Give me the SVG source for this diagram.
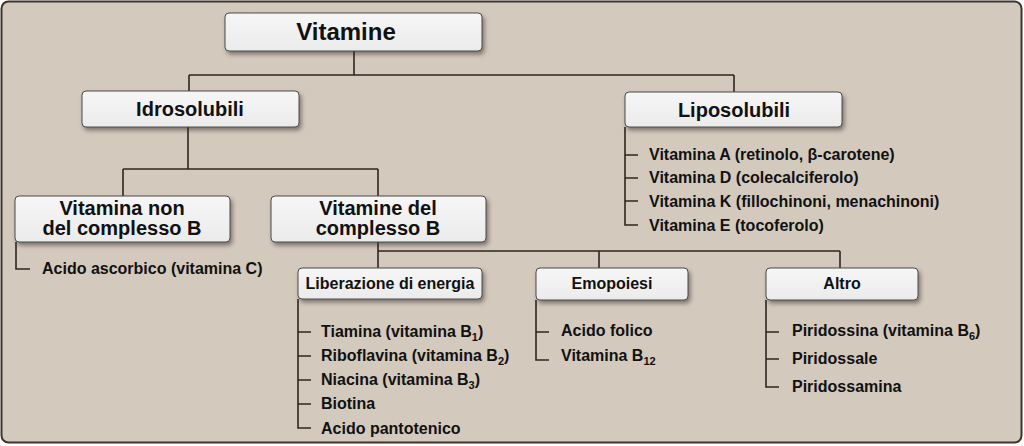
<svg xmlns="http://www.w3.org/2000/svg" width="1024" height="446" viewBox="0 0 1024 446">
<defs>
<linearGradient id="boxg" x1="0" y1="0" x2="0" y2="1">
<stop offset="0" stop-color="#f6f6f6"/>
<stop offset="1" stop-color="#ebebeb"/>
</linearGradient>
<filter id="sh" x="-10%" y="-20%" width="125%" height="160%">
<feDropShadow dx="2" dy="3" stdDeviation="2" flood-color="#3a3028" flood-opacity="0.55"/>
</filter>
</defs>
<style>
.box{fill:url(#boxg);stroke:#4a4a4a;stroke-width:1;filter:url(#sh)}
.t{font-family:"Liberation Sans",Arial,sans-serif;font-weight:bold;fill:#111}
.h1{font-size:24px;text-anchor:middle}
.h2{font-size:20px;text-anchor:middle}
.h3{font-size:16px;text-anchor:middle}
.it{font-size:16px}
.c{fill:none;stroke:#2e2620;stroke-width:1.6}
</style>
<rect x="1.5" y="1.5" width="1020" height="441" rx="7" fill="#d3c9bd" stroke="#3e342c" stroke-width="2"/>
<g id="connectors">
<path class="c" d="M354,51V75M189,75H734M189,75V91M734,75V92"/>
<path class="c" d="M188,127V169M123,169H378M123,169V196M378,169V196"/>
<path class="c" d="M378,242V251H840M378,251V268M599,251V268M840,251V268"/>
<path class="c" d="M16,242V269H30"/>
<path class="c" d="M625,127V225H638M625,155H638M625,178H638M625,201H638"/>
<path class="c" d="M298,299V428H311M298,332H311M298,356H311M298,380H311M298,404H311"/>
<path class="c" d="M536,300V360H549M536,332H549"/>
<path class="c" d="M766,300V387H779M766,332H779M766,359H779"/>
</g>
<g id="vitamine"><rect class="box" x="225" y="13" width="257" height="38" rx="4"/><text class="t h1" x="346" y="40">Vitamine</text></g>
<g id="idrosolubili"><rect class="box" x="82" y="91" width="217" height="36" rx="4"/><text class="t h2" x="190" y="116">Idrosolubili</text></g>
<g id="liposolubili"><rect class="box" x="625" y="92" width="217" height="35" rx="4"/><text class="t h2" x="734" y="117">Liposolubili</text></g>
<g id="liposolubili-items" class="t it">
<text x="649" y="160">Vitamina A (retinolo, β-carotene)</text>
<text x="649" y="183">Vitamina D (colecalciferolo)</text>
<text x="649" y="207">Vitamina K (fillochinoni, menachinoni)</text>
<text x="649" y="231">Vitamina E (tocoferolo)</text>
</g>
<g id="non-complesso-b"><rect class="box" x="15" y="196" width="215" height="46" rx="4"/><text class="t h2" x="122" y="215">Vitamina non</text><text class="t h2" x="122" y="235">del complesso B</text></g>
<g id="complesso-b"><rect class="box" x="271" y="196" width="215" height="46" rx="4"/><text class="t h2" x="378" y="215">Vitamine del</text><text class="t h2" x="378" y="235">complesso B</text></g>
<g id="acido-ascorbico" class="t it"><text x="42" y="274">Acido ascorbico (vitamina C)</text></g>
<g id="liberazione"><rect class="box" x="298" y="268" width="184" height="31" rx="4"/><text class="t h3" x="390" y="289">Liberazione di energia</text></g>
<g id="emopoiesi"><rect class="box" x="536" y="268" width="152" height="32" rx="4"/><text class="t h3" x="612" y="289">Emopoiesi</text></g>
<g id="altro"><rect class="box" x="766" y="268" width="152" height="32" rx="4"/><text class="t h3" x="842" y="289">Altro</text></g>
<g id="liberazione-items" class="t it">
<text x="321" y="337">Tiamina (vitamina B<tspan font-size="11" dy="4">1</tspan><tspan dy="-4">)</tspan></text>
<text x="321" y="361">Riboflavina (vitamina B<tspan font-size="11" dy="4">2</tspan><tspan dy="-4">)</tspan></text>
<text x="321" y="385">Niacina (vitamina B<tspan font-size="11" dy="4">3</tspan><tspan dy="-4">)</tspan></text>
<text x="321" y="409">Biotina</text>
<text x="321" y="434">Acido pantotenico</text>
</g>
<g id="emopoiesi-items" class="t it">
<text x="561" y="336">Acido folico</text>
<text x="561" y="361">Vitamina B<tspan font-size="11" dy="4">12</tspan></text>
</g>
<g id="altro-items" class="t it">
<text x="792" y="336">Piridossina (vitamina B<tspan font-size="11" dy="4">6</tspan><tspan dy="-4">)</tspan></text>
<text x="792" y="364">Piridossale</text>
<text x="792" y="392">Piridossamina</text>
</g>
</svg>
